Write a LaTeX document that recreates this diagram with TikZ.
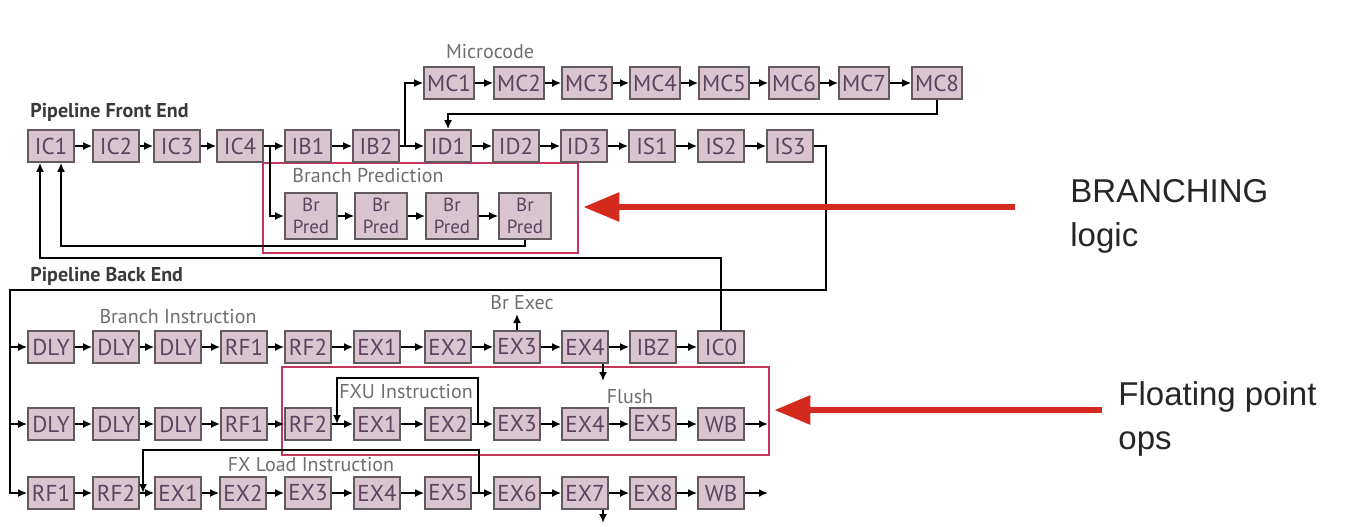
\documentclass[tikz,border=0pt]{standalone}
\usepackage{fontspec}
\setmainfont{PT Sans}
\newfontfamily\calloutfont{Liberation Sans}
\usetikzlibrary{arrows.meta,fit}

\definecolor{stagefill}{HTML}{D9C5CF}
\definecolor{stageline}{HTML}{625A5F}
\definecolor{stagetext}{HTML}{5A4460}
\definecolor{taggray}{HTML}{6E6E6E}
\definecolor{headgray}{HTML}{3A3A3A}
\definecolor{zonered}{HTML}{C4365A}
\definecolor{calloutred}{HTML}{D42A1E}

\begin{document}
\begin{tikzpicture}[x=0.5pt,y=-0.5pt,
    stage/.style={draw=stageline, fill=stagefill, text=stagetext, line width=0.8pt,
      minimum width=23pt, minimum height=16pt, inner sep=0pt,
      font=\fontsize{11.5}{12}\selectfont},
    mcstage/.style={stage, minimum width=25pt},
    predstage/.style={stage, minimum width=26pt, minimum height=23pt, align=center,
      font=\fontsize{9.5}{11}\selectfont},
    tag/.style={text=taggray, inner sep=0pt, font=\fontsize{10}{11}\selectfont},
    head/.style={text=headgray, inner sep=0pt, anchor=west, font=\bfseries\fontsize{10}{12}\selectfont},
    flow/.style={line width=1pt, -{Latex[length=4.5pt,width=4pt]}},
    zone/.style={draw=zonered, line width=1.4pt, inner sep=0pt},
    callout/.style={draw=calloutred, line width=3pt, -{Triangle[length=18pt,width=14pt]}, shorten >=2pt},
    callouttext/.style={anchor=north west, inner sep=0pt, align=left, text=black!85,
      font=\calloutfont\fontsize{16.5}{22}\selectfont}]

  \useasboundingbox (0,0) rectangle (1352,526);

  % highlighted zones
  \node[zone, fit={(263,163) (578,253)}] (bpzone) {};
  \node[zone, fit={(282,367) (769,455)}] (fpzone) {};

  % front end
  \node[head] (fronthead) at (30,112) {Pipeline Front End};
  \node[tag] (microtag) at (490,52) {Microcode};
  \node[tag] (bptag) at (368,176) {Branch Prediction};

  \node[stage] (ic1) at (51,146) {IC1};
  \node[stage] (ic2) at (116,146) {IC2};
  \node[stage] (ic3) at (177,146) {IC3};
  \node[stage] (ic4) at (240,146) {IC4};
  \node[stage] (ib1) at (308,146) {IB1};
  \node[stage] (ib2) at (376,146) {IB2};
  \node[stage] (id1) at (448,146) {ID1};
  \node[stage] (id2) at (516,146) {ID2};
  \node[stage] (id3) at (584,146) {ID3};
  \node[stage] (is1) at (652,146) {IS1};
  \node[stage] (is2) at (721,146) {IS2};
  \node[stage] (is3) at (790,146) {IS3};

  \node[mcstage] (mc1) at (449,83) {MC1};
  \node[mcstage] (mc2) at (519,83) {MC2};
  \node[mcstage] (mc3) at (587,83) {MC3};
  \node[mcstage] (mc4) at (655,83) {MC4};
  \node[mcstage] (mc5) at (724,83) {MC5};
  \node[mcstage] (mc6) at (794,83) {MC6};
  \node[mcstage] (mc7) at (864,83) {MC7};
  \node[mcstage] (mc8) at (937,83) {MC8};

  \node[predstage] (bp1) at (311,216) {Br\\Pred};
  \node[predstage] (bp2) at (381,216) {Br\\Pred};
  \node[predstage] (bp3) at (452,216) {Br\\Pred};
  \node[predstage] (bp4) at (525,216) {Br\\Pred};

  % back end
  \node[head] (backhead) at (30,276) {Pipeline Back End};
  \node[tag] (brinstr) at (178,317) {Branch Instruction};
  \node[tag] (brexec) at (522,303) {Br Exec};
  \node[tag] (flushtag) at (630,397) {Flush};
  \node[tag] (fxutag) at (406,392) {FXU Instruction};
  \node[tag] (fxltag) at (311,465) {FX Load Instruction};

  \node[stage] (bdly1) at (51,347) {DLY};
  \node[stage] (bdly2) at (116,347) {DLY};
  \node[stage] (bdly3) at (178,347) {DLY};
  \node[stage] (brf1) at (244,347) {RF1};
  \node[stage] (brf2) at (308,347) {RF2};
  \node[stage] (bex1) at (377,347) {EX1};
  \node[stage] (bex2) at (448,347) {EX2};
  \node[stage] (bex3) at (517,347) {EX3};
  \node[stage] (bex4) at (585,347) {EX4};
  \node[stage] (bibz) at (653,347) {IBZ};
  \node[stage] (bic0) at (721,347) {IC0};

  \node[stage] (fdly1) at (51,424) {DLY};
  \node[stage] (fdly2) at (116,424) {DLY};
  \node[stage] (fdly3) at (178,424) {DLY};
  \node[stage] (frf1) at (244,424) {RF1};
  \node[stage] (frf2) at (308,424) {RF2};
  \node[stage] (fex1) at (377,424) {EX1};
  \node[stage] (fex2) at (448,424) {EX2};
  \node[stage] (fex3) at (517,424) {EX3};
  \node[stage] (fex4) at (585,424) {EX4};
  \node[stage] (fex5) at (653,424) {EX5};
  \node[stage] (fwb) at (721,424) {WB};

  \node[stage] (lrf1) at (51,493) {RF1};
  \node[stage] (lrf2) at (116,493) {RF2};
  \node[stage] (lex1) at (178,493) {EX1};
  \node[stage] (lex2) at (243,493) {EX2};
  \node[stage] (lex3) at (308,493) {EX3};
  \node[stage] (lex4) at (377,493) {EX4};
  \node[stage] (lex5) at (448,493) {EX5};
  \node[stage] (lex6) at (517,493) {EX6};
  \node[stage] (lex7) at (585,493) {EX7};
  \node[stage] (lex8) at (653,493) {EX8};
  \node[stage] (lwb) at (721,493) {WB};

  % junctions and loose ends
  \coordinate (bpfork) at (270,146);
  \coordinate (mcfork) at (405,146);
  \coordinate (fbinner) at (61,246);
  \coordinate (fbouter) at (40,258);
  \coordinate (busR) at (826,290);
  \coordinate (busL) at (10,290);
  \coordinate (brexectip) at (517,314);
  \coordinate (flushtip) at (603,381);
  \coordinate (fxutap) at (478,424);
  \coordinate (fxuin) at (337,424);
  \coordinate (fxltap) at (479,493);
  \coordinate (fxlin) at (143,493);
  \coordinate (fpout) at (768,424);
  \coordinate (ldout) at (768,493);
  \coordinate (ex7tip) at (603,523);

  % pipeline chains
  \foreach \a/\b in {ic1/ic2,ic2/ic3,ic3/ic4,ic4/ib1,ib1/ib2,ib2/id1,id1/id2,id2/id3,id3/is1,is1/is2,is2/is3,
                     mc1/mc2,mc2/mc3,mc3/mc4,mc4/mc5,mc5/mc6,mc6/mc7,mc7/mc8,
                     bp1/bp2,bp2/bp3,bp3/bp4,
                     bdly1/bdly2,bdly2/bdly3,bdly3/brf1,brf1/brf2,brf2/bex1,bex1/bex2,bex2/bex3,bex3/bex4,bex4/bibz,bibz/bic0,
                     fdly1/fdly2,fdly2/fdly3,fdly3/frf1,frf1/frf2,frf2/fex1,fex1/fex2,fex2/fex3,fex3/fex4,fex4/fex5,fex5/fwb,
                     lrf1/lrf2,lrf2/lex1,lex1/lex2,lex2/lex3,lex3/lex4,lex4/lex5,lex5/lex6,lex6/lex7,lex7/lex8,lex8/lwb}
    \draw[flow] (\a) -- (\b);

  % branches and feedback
  \draw[flow] (mcfork) |- (mc1);
  \draw[flow] (mc8.south) -- ++(0,14) -| (id1.north);
  \draw[flow] (bpfork) |- (bp1);
  \draw[flow] (bp4.south) |- (fbinner) -- (fbinner |- ic1.south);
  \draw[flow] (bic0.north) |- (fbouter) -- (fbouter |- ic1.south);
  \draw[flow] (is3) -| (busR) -- (busL) |- (lrf1);
  \draw[flow] (busL |- bdly1) -- (bdly1);
  \draw[flow] (busL |- fdly1) -- (fdly1);

  \draw[flow] (bex3.north) -- (brexectip);
  \draw[flow] (bex4.south -| flushtip) -- (flushtip);
  \draw[flow] (fxutap) -- ++(0,-46) -| (fxuin);
  \draw[flow] (fxltap) -- ++(0,-43) -| (fxlin);
  \draw[flow] (fwb) -- (fpout);
  \draw[flow] (lwb) -- (ldout);
  \draw[flow] (lex7.south -| ex7tip) -- (ex7tip);

  % callouts
  \node[callouttext] (bplabel) at (1070,179) {BRANCHING\\logic};
  \node[callouttext] (fplabel) at (1118,381) {Floating point\\ops};
  \coordinate (bptail) at (1015,207);
  \coordinate (fptail) at (1102,410);
  \draw[callout] (bptail) -- (bpzone.east |- bptail);
  \draw[callout] (fptail) -- (fpzone.east |- fptail);
\end{tikzpicture}
\end{document}
